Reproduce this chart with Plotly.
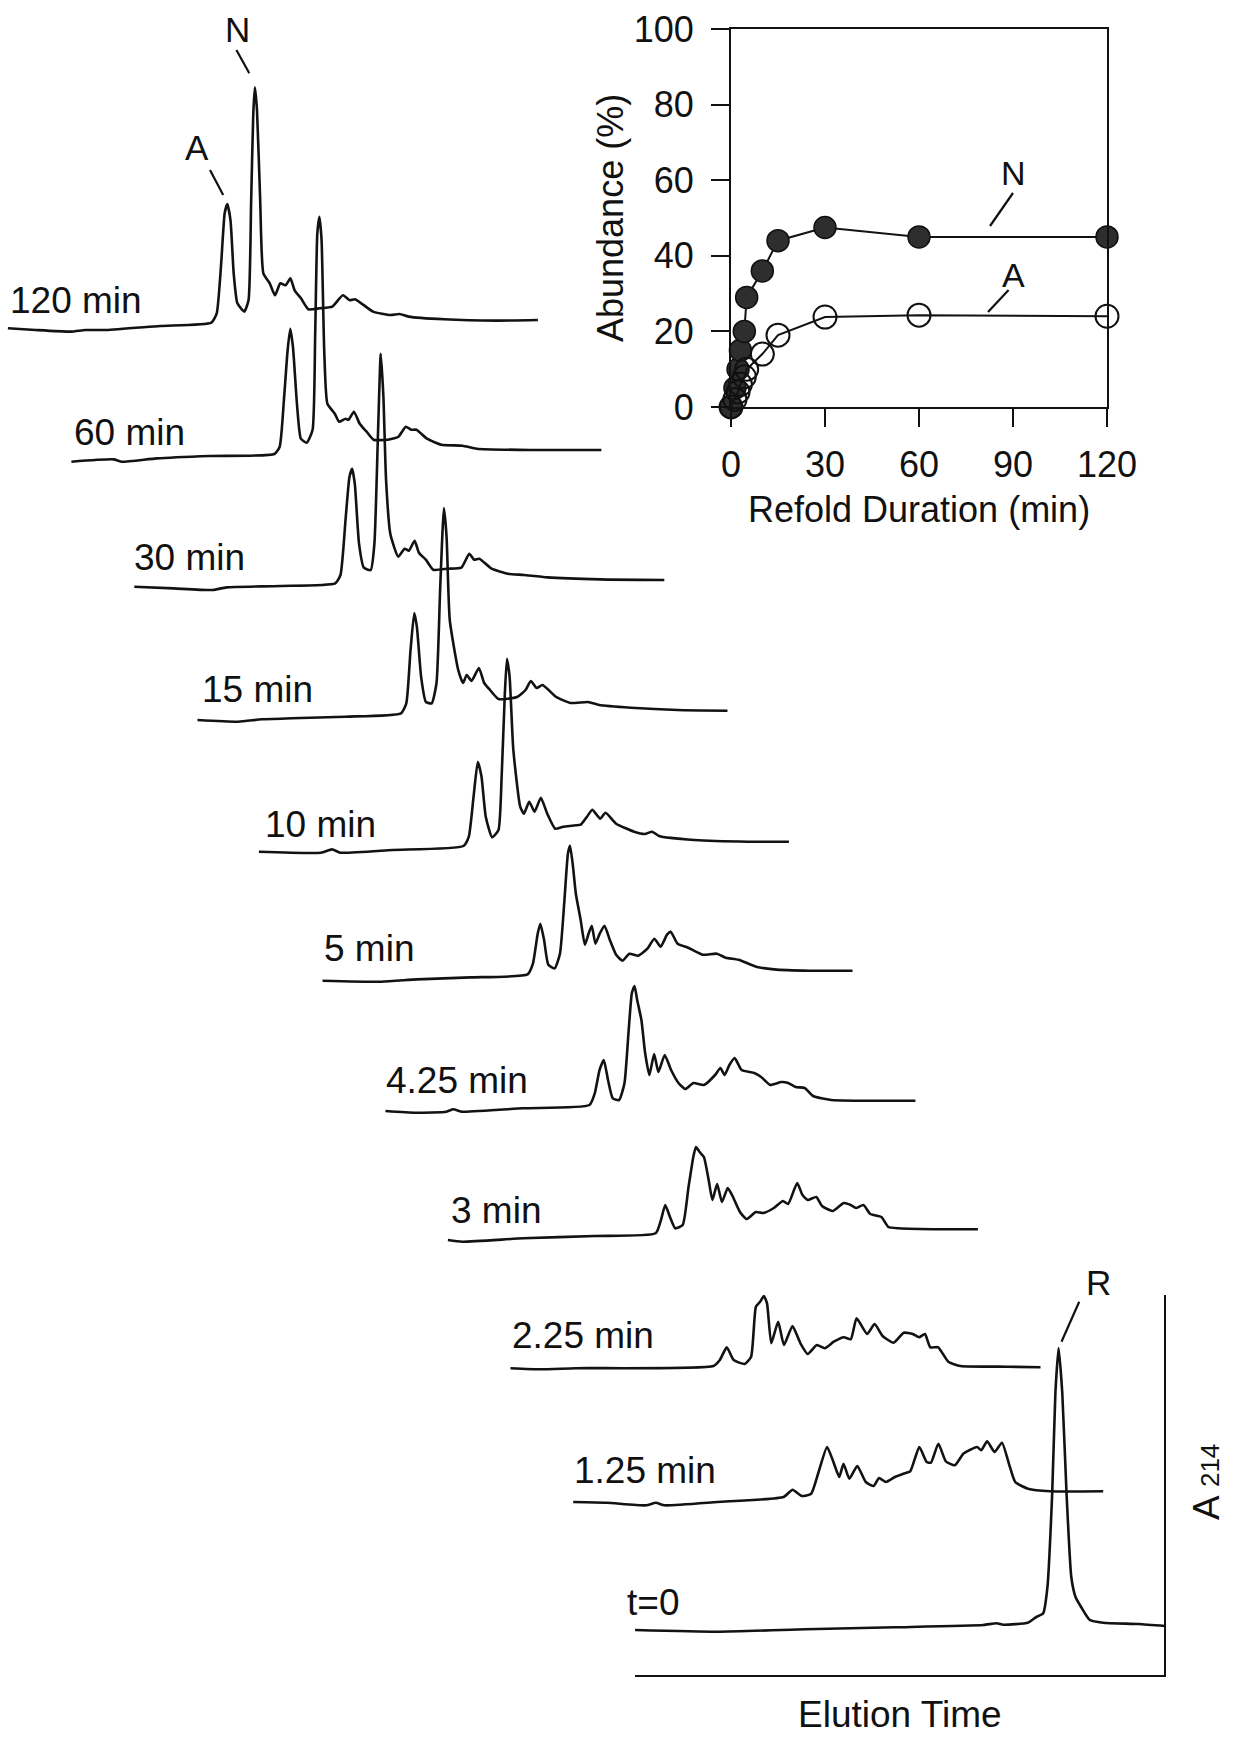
import plotly.graph_objects as go

# ---------------- Inset data: abundance vs refold duration ----------------
refold_min = [0, 1.25, 2.25, 3, 4.25, 5, 10, 15, 30, 60, 120]
native_pct = [0, 5, 10, 15, 20, 29, 36, 44, 47.5, 45, 45]
alt_pct = [0, 2, 4, 6, 8, 10, 14, 19, 23.8, 24.3, 24]
inset_xticks = [0, 30, 60, 90, 120]
inset_yticks = [0, 20, 40, 60, 80, 100]

# ---------------- Chromatograms: (elution time, A214) pairs ----------------
chrom_labels = ["120 min", "60 min", "30 min", "15 min", "10 min", "5 min",
                "4.25 min", "3 min", "2.25 min", "1.25 min", "t=0"]

chrom_120 = [(0,0),(5.2,-1.7),(11.9,-3.3),(14.6,-1.7),(18.6,-1.7),(28.7,2.3),(38.4,5.7),(39.4,15),
             (40.2,61.7),(40.9,115),(41.4,124.3),(42.0,108),(42.6,55),(43.3,25),(44.6,16.7),(45.4,28),
             (45.9,128),(46.3,215),(46.6,241),(47.0,218),(47.6,128),(48.2,55),(49.4,45),(50.4,33),
             (51.4,45),(52.4,43),(53.3,50),(54.1,38),(55.3,30),(56.7,19),(58.8,20),(61.2,21.7),
             (63.2,33),(64.5,28),(65.5,29),(68.9,16.7),(72.2,13.3),(73.9,14.3),(75.6,11.7),
             (82.3,9),(92.3,7.7),(100,8.3)]
chrom_60 = [(0,0),(8,2.3),(9.4,0),(16.1,3.3),(26.2,5.7),(38.3,7.7),(39.3,15),(40.1,61.7),(40.8,111.7),
            (41.3,133),(41.8,115),(42.6,55),(43.3,23),(44.4,19),(45.5,31.7),(46.0,128),(46.4,228),
            (46.8,245),(47.2,222),(47.7,112),(48.3,58),(49.7,48),(50.5,40),(51.7,43),(52.3,42),
            (53.3,50),(54.4,38),(55.7,30),(57,22),(59.7,22),(61.7,25),(63.1,35),(64.1,32),(65.1,32),
            (67.1,23),(69.8,17),(73.8,16),(76.5,13),(86.6,11.7),(100,11.7)]
chrom_30 = [(0,0),(7.4,-1.7),(14.8,-3.3),(17.4,-0.7),(27.5,0.7),(37.9,3.3),(38.9,11.7),(39.9,70),
            (40.6,110),(41.1,118),(41.6,103),(42.4,43),(43.3,19),(44.6,16.7),(45.3,43),(46,157),
            (46.5,233),(47,190),(47.5,107),(48.3,53),(49.8,30),(51,38),(51.8,36),(52.9,46),(53.7,34),
            (55,27),(56.4,17),(59.1,18),(61.7,19),(63.2,33),(64.1,27),(65.1,28),(67.4,18),(70.5,13),
            (73.5,11.7),(77.9,9.3),(87.9,7.3),(100,6.7)]
chrom_15 = [(0,0),(7.7,-1.7),(12.1,0.7),(17.8,1.7),(27.9,3.3),(38.4,6.7),(39.4,16.7),(40.2,70),
            (40.9,107),(41.4,93),(42.2,43),(43.1,18),(44.2,16.7),(45.1,37),(45.8,133),(46.5,212),
            (47,183),(47.6,100),(49.2,50),(50.1,37),(50.8,45),(51.7,39),(53.1,52),(54.1,37),(55.2,30),
            (56.8,21),(60.3,23),(61.9,30),(62.9,39),(64,32),(65.1,35),(67.7,23),(70.4,17),(73.7,18),
            (75.8,15),(81.8,12.3),(90.6,10),(100,9.3)]
chrom_10 = [(0,0),(11.7,-1),(13.8,2.3),(15.4,-1),(25.2,1.7),(38.6,5.7),(39.6,15),(40.5,55),(41.3,90),
            (42,75),(42.8,35),(44,14.3),(45.2,21.7),(45.8,75),(46.4,158),(46.8,193),(47.3,175),(48,102),
            (49.3,45),(50,38),(51,50),(52,40),(53.2,54),(54.4,38),(55.9,23),(57.4,25),(59.1,26),
            (60.7,27),(61.9,35),(62.9,42),(64.4,33),(65.4,39),(67.4,28),(70.8,20),(72.8,17.7),
            (74.2,20),(75.5,15.7),(82.2,11.7),(92.3,10),(100,10)]
chrom_5 = [(0,0),(11.1,-1),(17.8,1.3),(27.9,3.3),(38.7,6.3),(39.7,17),(40.6,47),(41.1,57),(41.8,41),
           (42.6,16),(43.8,12.3),(44.8,27),(45.6,77),(46.3,127),(46.7,135),(47.2,117),(47.8,87),
           (48.7,61),(49.5,36),(50.2,47),(50.8,55),(51.5,37),(52.3,47),(53.2,55),(54.2,41),(55.4,26),
           (56.6,20),(57.9,27),(59.6,25),(61.3,32),(62.6,42),(63.8,34),(65,46),(65.7,49),(67,37),
           (69,33),(71.7,26),(74.4,27),(76.1,23),(78.5,21),(81.8,14),(85.2,11.3),(91.9,10),(100,10)]
chrom_425 = [(0,0),(5.7,-1.7),(11.5,-0.7),(12.8,1.7),(14.5,-0.7),(26,2.7),(38.5,6),(39.5,17.7),
             (40.4,41),(41.2,51),(42,31),(42.9,12.7),(44.1,11),(45.1,27.7),(45.9,81),(46.5,118),
             (47,125),(47.5,111),(48.3,91),(49,58),(49.8,36),(50.7,57),(51.5,39),(52.7,56),(53.9,41),
             (55.3,28),(56.6,22),(58.1,28),(60.1,26),(62.2,36),(63.2,43),(64,36),(64.9,46),(65.9,53),
             (67.2,41),(69.6,38),(70.9,34),(72.6,26),(74.7,29),(76,28),(77.4,24),(79.1,23),(80.7,15),
             (84.1,11),(100,10.3)]
chrom_3 = [(0,0),(2.7,-1.7),(14.2,1.7),(27.7,4),(39.2,6.7),(40.2,20),(41,35),(41.9,23),(42.9,11.7),
           (44.3,15),(45.4,53),(46.3,83),(46.8,93),(47.5,88),(48.3,83),(49.2,60),(49.9,40),(50.8,56),
           (51.7,38),(52.8,52),(53.7,44),(55.1,28),(56.4,21),(58.1,28),(59.5,27),(61.5,32),(63.2,39),
           (64.2,36),(65.9,57),(66.9,45),(67.9,40),(69.5,43),(70.6,34),(72.6,29),(74.7,37),(76,35),
           (77,32),(78.4,35),(79.7,26),(81.8,23),(83.1,13),(85.1,11.7),(93.1,10.7),(100,10.7)]
chrom_225 = [(0,0),(5.6,-1.1),(12.3,0),(38.3,2.2),(39.5,8.2),(40.8,20.9),(42.1,8.2),(44.2,4.2),
             (45.4,11.5),(46.3,61.5),(47.1,66.5),(47.8,72.2),(48.4,64.9),(49.2,24.9),(50.5,46.5),
             (51.6,23.2),(53.2,42.2),(54.7,24.9),(56.1,14.2),(57.8,23.2),(59.3,19.9),(61,26.5),
             (62.9,30.9),(64.2,28.9),(65.3,49.9),(67.3,34.2),(68.7,44.2),(70.2,32.2),(72.3,25.5),
             (74.2,35.5),(75.9,34.2),(77.1,30.9),(78.2,34.2),(79.2,20.9),(80.7,20.9),(82.6,6.5),
             (84.9,2.2),(93.7,1.5),(100,0.9)]
chrom_125 = [(0,0),(6.3,-0.7),(13.8,-3.3),(15.6,-0.7),(17.2,-3.3),(27.2,0),(39.7,5),(41.4,12.3),
             (43.1,6),(44.9,8.3),(46.3,30),(47.9,55),(49.1,40),(50.2,25),(51,38.3),(52.1,23.3),
             (53.6,36),(55.2,20),(56.7,16),(57.7,24),(59,20),(60.7,25),(62.3,28.3),(63.6,30.7),
             (65.3,55),(66.7,40),(67.5,39.3),(68.9,58.3),(70.3,40.7),(72,36.7),(73.6,48.3),(74.7,51.7),
             (76.2,55),(77,51.7),(78.1,60.7),(79.5,50),(80.9,59.3),(82.3,36.7),(83.4,20),(85.8,13.3),
             (90,10.7),(100,10.7)]
chrom_0 = [(0,0),(15.5,-1.7),(32.2,0.7),(49,2.7),(65.7,5),(68.2,6.7),(69.5,5.3),(74.1,7.3),(75.6,12.7),
           (77,16.7),(77.8,43),(78.7,137),(79.3,237),(79.9,282),(80.6,237),(81.4,137),(82.3,53),
           (83.1,33),(84.3,21.7),(85.8,10),(88.3,7.3),(95,6),(100,4)]

chromatograms = [chrom_120, chrom_60, chrom_30, chrom_15, chrom_10, chrom_5,
                 chrom_425, chrom_3, chrom_225, chrom_125, chrom_0]

# ---------------- Layout of the stacked display (offsets) ----------------
W, H = 1234, 1740
x_stagger = [0, 11.98, 23.85, 35.77, 47.36, 59.36, 71.23, 83.02, 94.83, 106.66, 118.34]
y_stack = [328.3, 461.7, 586.7, 720, 851.7, 980.7, 1111, 1240, 1368.2, 1502, 1630]
PX_PER_UNIT = 5.3
X0_PX = 7.9

LINE = "#121212"
FONT = "Liberation Sans, Arial, Helvetica, sans-serif"

fig = go.Figure()

for pts, dx, dy in zip(chromatograms, x_stagger, y_stack):
    ts = [p[0] + dx for p in pts]
    ys = [p[1] - dy for p in pts]
    fig.add_trace(go.Scatter(x=ts, y=ys, mode="lines",
                             line=dict(color=LINE, width=2.6, shape="spline", smoothing=0.5),
                             xaxis="x", yaxis="y", showlegend=False, hoverinfo="skip"))

# empty trace so the L-shaped frame axes are drawn
fig.add_trace(go.Scatter(x=[], y=[], xaxis="x3", yaxis="y3", showlegend=False, hoverinfo="skip"))

# Inset traces
fig.add_trace(go.Scatter(x=refold_min, y=native_pct, mode="lines+markers", xaxis="x2", yaxis="y2",
                         line=dict(color=LINE, width=2),
                         marker=dict(size=22, color="#2e2e2e", line=dict(color="#111", width=1.5)),
                         cliponaxis=False, showlegend=False))
fig.add_trace(go.Scatter(x=refold_min, y=alt_pct, mode="lines+markers", xaxis="x2", yaxis="y2",
                         line=dict(color=LINE, width=2),
                         marker=dict(size=23, symbol="circle-open", color="#111", line=dict(width=2)),
                         cliponaxis=False, showlegend=False))


def px(x):
    return x / W


def py(y):
    return 1 - y / H


annotations = []


def label(text, x, y, size=36, xanchor="center", angle=0):
    annotations.append(dict(text=text, x=px(x), y=py(y), xref="paper", yref="paper",
                            showarrow=False, xanchor=xanchor, yanchor="middle", textangle=angle,
                            borderpad=0, font=dict(family=FONT, size=size, color="#111")))


label_pos = [(9, 300.5), (73, 432.5), (132.5, 557.5), (201, 689.5), (263.6, 824), (322.5, 949),
             (385, 1080.5), (450, 1210.5), (510.5, 1335.5), (573, 1470.5), (626, 1602.5)]
for txt, (lx, ly) in zip(chrom_labels, label_pos):
    label(txt, lx, ly, size=37, xanchor="left")

label("N", 237.5, 29, size=35)
label("A", 197, 148, size=35)
label("R", 1098, 1282, size=35)
label("N", 1013, 173, size=34)
label("A", 1013, 275, size=34)
label("Elution Time", 900, 1714, size=37)
label("A <span style='font-size:26px'>214</span>", 1206, 1482, size=37, angle=-90)
label("Refold Duration (min)", 919, 509, size=36)
label("Abundance (%)", 611, 218, size=36, angle=-90)

shapes = []
for (x1, y1, x2, y2) in [(236.4, 50, 249.3, 73.3), (210, 170, 223.2, 195),
                         (1079.2, 1301.7, 1061.5, 1341.7),
                         (1013, 193, 990, 226), (1008.6, 290, 988, 312)]:
    shapes.append(dict(type="line", xref="paper", yref="paper", x0=px(x1), y0=py(y1),
                       x1=px(x2), y1=py(y2), line=dict(color="#111", width=2.2)))

x_lo = -X0_PX / PX_PER_UNIT
x_hi = x_lo + W / PX_PER_UNIT

fig.update_layout(
    width=W, height=H, margin=dict(l=0, r=0, t=0, b=0, pad=0, autoexpand=False),
    paper_bgcolor="white", plot_bgcolor="rgba(0,0,0,0)",
    showlegend=False,
    font=dict(family=FONT, size=36, color="#111"),
    annotations=annotations, shapes=shapes,
    xaxis=dict(domain=[0, 1], range=[x_lo, x_hi], visible=False, fixedrange=True, automargin=False),
    yaxis=dict(domain=[0, 1], range=[-H, 0], visible=False, fixedrange=True, automargin=False),
    xaxis2=dict(domain=[731 / W, 1107 / W], range=[0, 120], anchor="y2", automargin=False,
                tickvals=inset_xticks, ticks="outside", ticklen=18, tickwidth=2, tickcolor="#111",
                showline=True, linewidth=2, linecolor="#111", mirror=True,
                showgrid=False, zeroline=False, ticklabelstandoff=7,
                tickfont=dict(family=FONT, size=36, color="#111")),
    yaxis2=dict(domain=[py(407), py(29)], range=[0, 100], anchor="x2", automargin=False,
                tickvals=inset_yticks, ticks="outside", ticklen=18, tickwidth=2, tickcolor="#111",
                showline=True, linewidth=2, linecolor="#111", mirror=True,
                showgrid=False, zeroline=False, ticklabelstandoff=10,
                tickfont=dict(family=FONT, size=36, color="#111")),
    xaxis3=dict(domain=[635 / W, 1164 / W], anchor="y3", showline=True, linewidth=2,
                linecolor="#111", showticklabels=False, ticks="", showgrid=False, zeroline=False,
                range=[0, 1], fixedrange=True, automargin=False),
    yaxis3=dict(domain=[py(1675), py(1295)], anchor="x3", side="right", showline=True,
                linewidth=2, linecolor="#111", showticklabels=False, ticks="", showgrid=False,
                zeroline=False, range=[0, 1], fixedrange=True, automargin=False),
)

fig.write_html("out.html")
